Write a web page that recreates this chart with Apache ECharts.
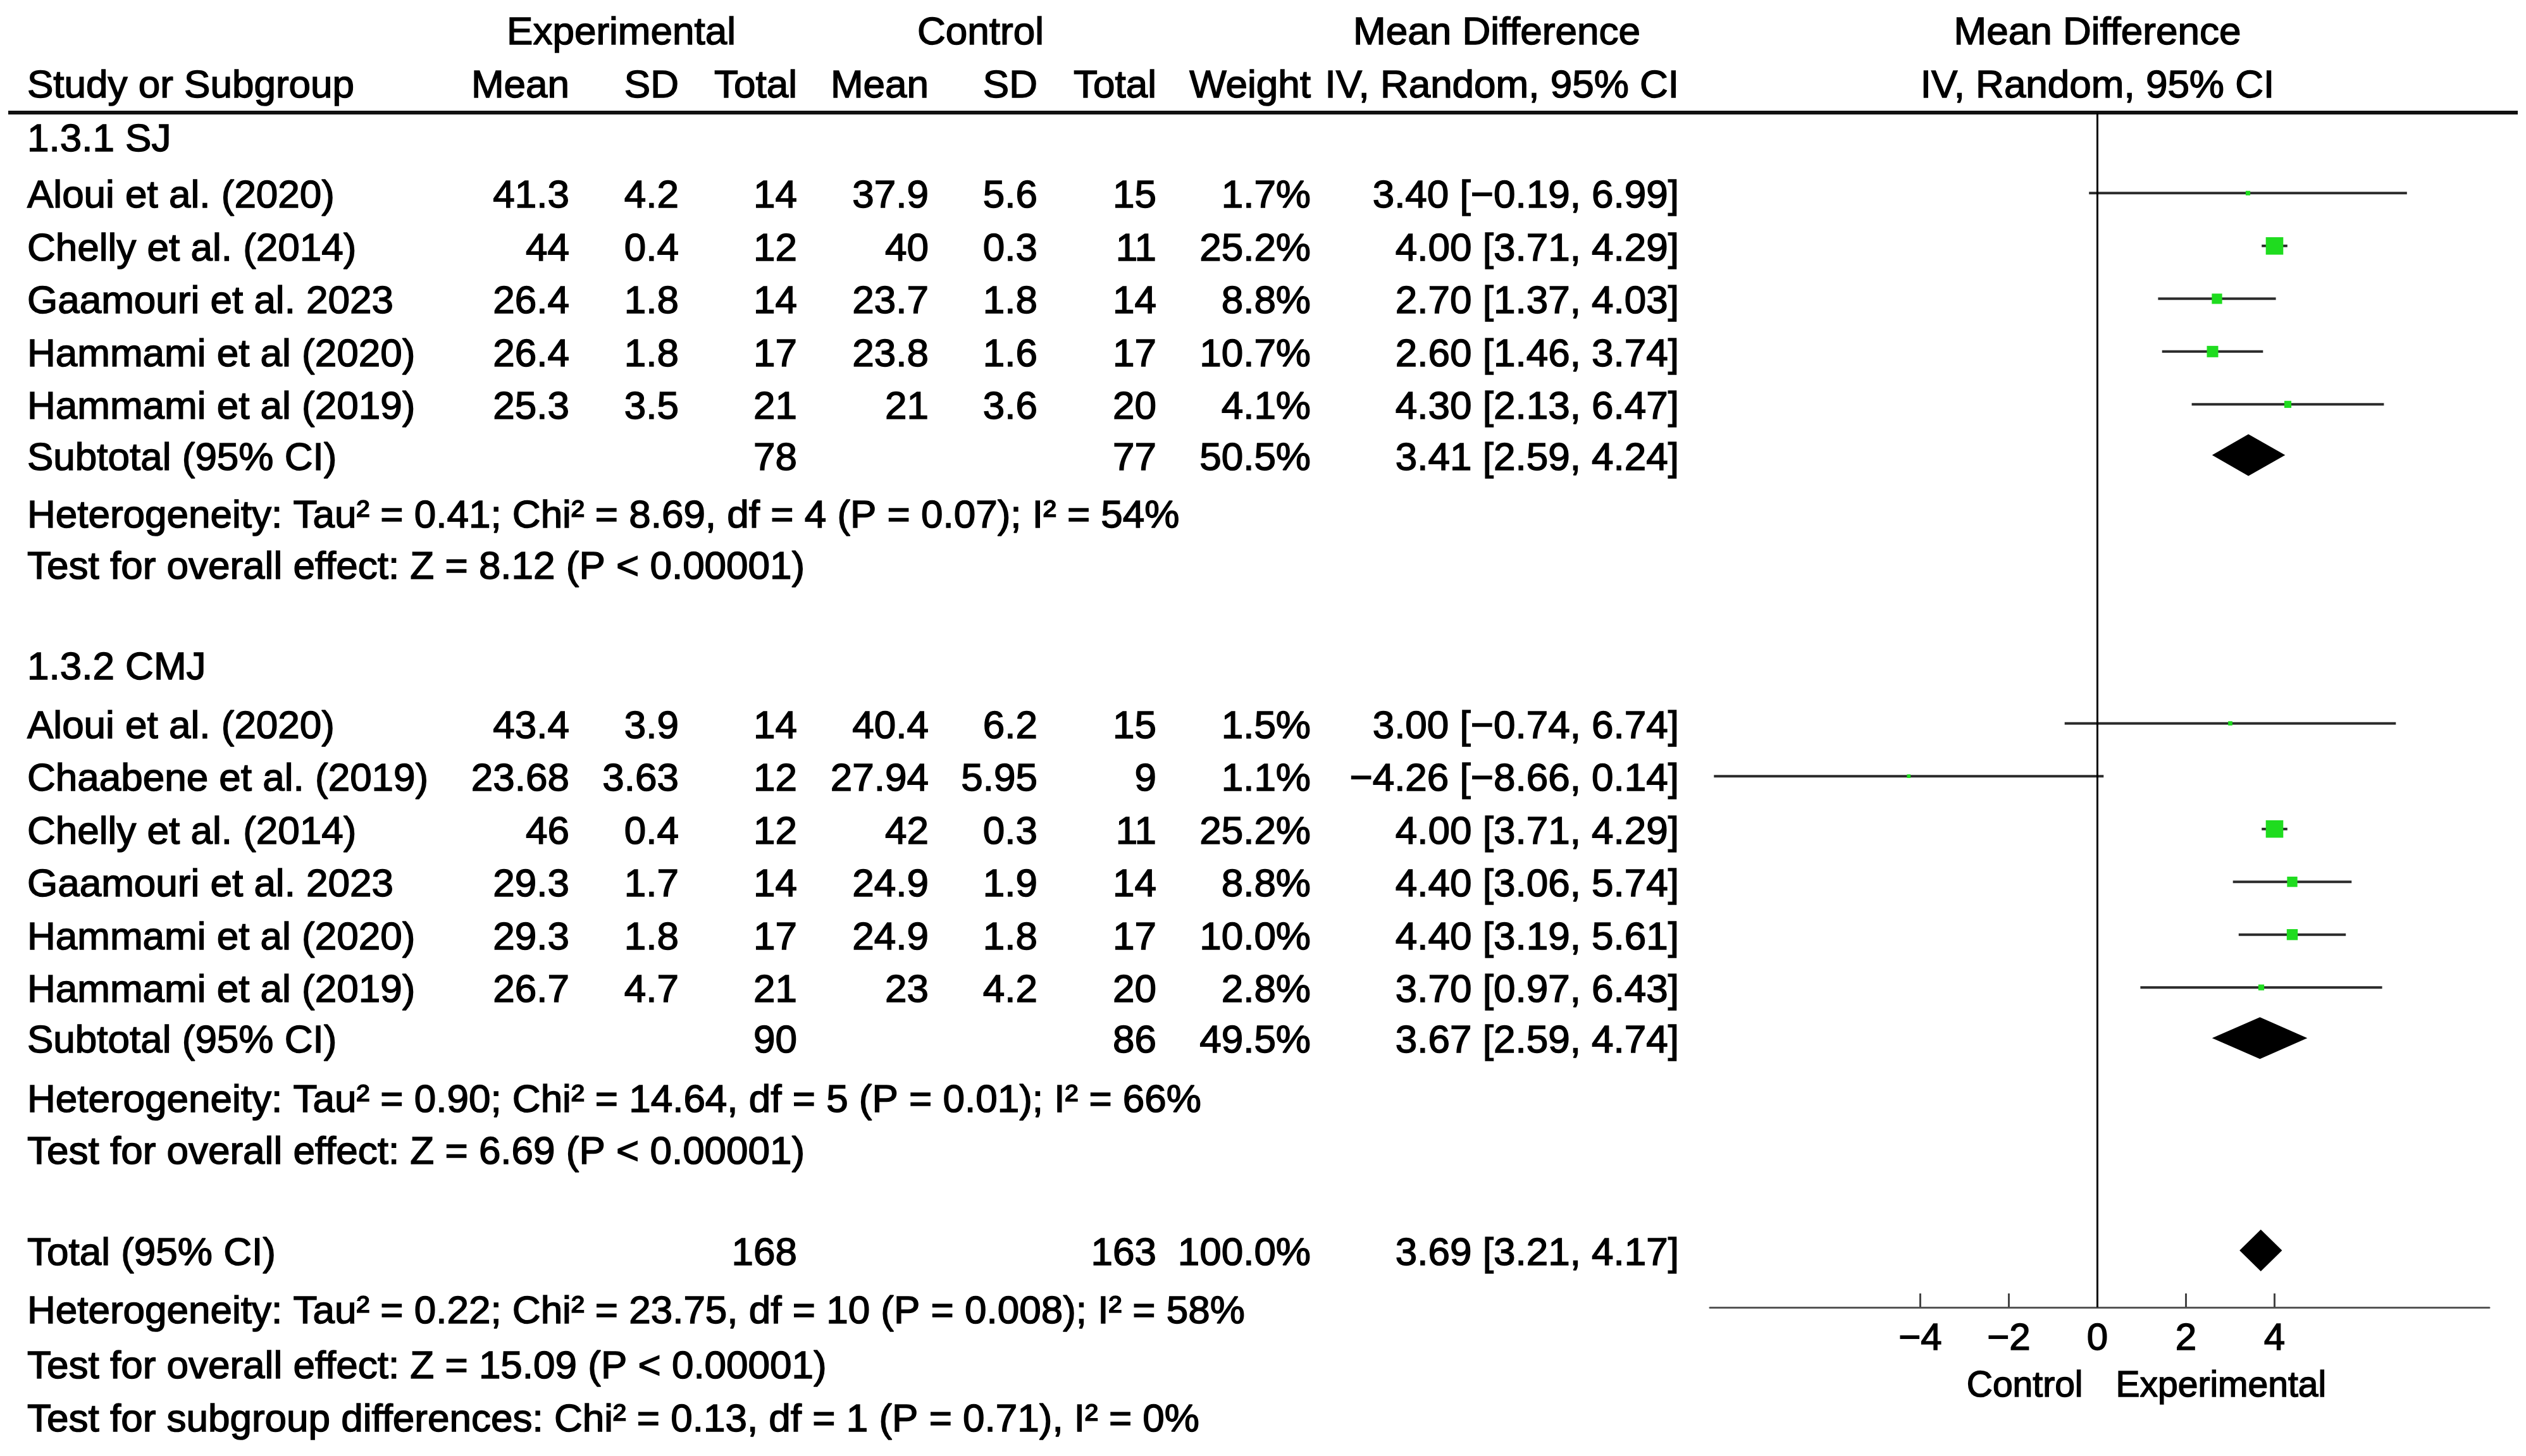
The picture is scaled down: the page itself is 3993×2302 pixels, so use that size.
<!DOCTYPE html>
<html>
<head>
<meta charset="utf-8">
<title>Forest plot - SJ / CMJ</title>
<script src="https://cdn.jsdelivr.net/npm/echarts@6/dist/echarts.min.js"></script>
<style>
  html, body { margin: 0; padding: 0; background: #fff; }
  #chart { width: 3993px; height: 2302px; }
</style>
</head>
<body>
<div id="chart"></div>
<script>
// ---- data: 1.3.1 SJ
const sjStudies = ['Aloui et al. (2020)', 'Chelly et al. (2014)', 'Gaamouri et al. 2023', 'Hammami et al (2020)', 'Hammami et al (2019)']
const sjExpMean = [41.3, 44, 26.4, 26.4, 25.3]
const sjExpSD = [4.2, 0.4, 1.8, 1.8, 3.5]
const sjExpTotal = [14, 12, 14, 17, 21]
const sjCtlMean = [37.9, 40, 23.7, 23.8, 21]
const sjCtlSD = [5.6, 0.3, 1.8, 1.6, 3.6]
const sjCtlTotal = [15, 11, 14, 17, 20]
const sjWeight = [1.7, 25.2, 8.8, 10.7, 4.1]
const sjMD = [3.40, 4.00, 2.70, 2.60, 4.30]
const sjLow = [-0.19, 3.71, 1.37, 1.46, 2.13]
const sjHigh = [6.99, 4.29, 4.03, 3.74, 6.47]

// ---- data: 1.3.2 CMJ
const cmjStudies = ['Aloui et al. (2020)', 'Chaabene et al. (2019)', 'Chelly et al. (2014)', 'Gaamouri et al. 2023', 'Hammami et al (2020)', 'Hammami et al (2019)']
const cmjExpMean = [43.4, 23.68, 46, 29.3, 29.3, 26.7]
const cmjExpSD = [3.9, 3.63, 0.4, 1.7, 1.8, 4.7]
const cmjExpTotal = [14, 12, 12, 14, 17, 21]
const cmjCtlMean = [40.4, 27.94, 42, 24.9, 24.9, 23]
const cmjCtlSD = [6.2, 5.95, 0.3, 1.9, 1.8, 4.2]
const cmjCtlTotal = [15, 9, 11, 14, 17, 20]
const cmjWeight = [1.5, 1.1, 25.2, 8.8, 10.0, 2.8]
const cmjMD = [3.00, -4.26, 4.00, 4.40, 4.40, 3.70]
const cmjLow = [-0.74, -8.66, 3.71, 3.06, 3.19, 0.97]
const cmjHigh = [6.74, 0.14, 4.29, 5.74, 5.61, 6.43]

// ---- pooled rows: SJ subtotal, CMJ subtotal, total
const pooledLabels = ['Subtotal (95% CI)', 'Subtotal (95% CI)', 'Total (95% CI)']
const pooledExpTotal = [78, 90, 168]
const pooledCtlTotal = [77, 86, 163]
const pooledWeight = [50.5, 49.5, 100.0]
const pooledMD = [3.41, 3.67, 3.69]
const pooledLow = [2.59, 2.59, 3.21]
const pooledHigh = [4.24, 4.74, 4.17]

const groupTitles = ['1.3.1 SJ', '1.3.2 CMJ']
const sjStats = ['Heterogeneity: Tau² = 0.41; Chi² = 8.69, df = 4 (P = 0.07); I² = 54%', 'Test for overall effect: Z = 8.12 (P < 0.00001)']
const cmjStats = ['Heterogeneity: Tau² = 0.90; Chi² = 14.64, df = 5 (P = 0.01); I² = 66%', 'Test for overall effect: Z = 6.69 (P < 0.00001)']
const totalStats = ['Heterogeneity: Tau² = 0.22; Chi² = 23.75, df = 10 (P = 0.008); I² = 58%', 'Test for overall effect: Z = 15.09 (P < 0.00001)', 'Test for subgroup differences: Chi² = 0.13, df = 1 (P = 0.71), I² = 0%']

const xTicks = [-4, -2, 0, 2, 4]
const sideLabels = ['Control', 'Experimental']

// ---- layout (row units on the y axis, pixel columns for the table)
const ROW = {
	head1: -2.02, head2: -1.02,
	sjHead: 0, sjFirst: 1.07, sjSub: 6.03, sjStats: [7.12, 8.1],
	cmjHead: 10.0, cmjFirst: 11.11, cmjSub: 17.07, cmjStats: [18.19, 19.17],
	total: 21.09, totalStats: [22.19, 23.23, 24.24],
	labels: 23.6
}
const TEXT_DY = 6 // visual centre of glyphs sits a bit above the em-box middle
const COL = { left: 43, expMean: 900, expSD: 1073, expTotal: 1260, ctlMean: 1468, ctlSD: 1640, ctlTotal: 1828, weight: 2072, ci: 2654, expHead: 982, ctlHead: 1550, mdHead: 2366 }
const FONT = 'Liberation Sans, Arial, sans-serif'
const GREEN = '#1fdc1f'

function fmt2(v) {
	return (v < 0 ? '\u2212' : '') + Math.abs(v).toFixed(2)
}
function ciText(m, l, h) {
	return fmt2(m) + ' [' + fmt2(l) + ', ' + fmt2(h) + ']'
}

const sjRows = sjStudies.map((s, i) => ROW.sjFirst + i)
const cmjRows = cmjStudies.map((s, i) => ROW.cmjFirst + i)
const pooledRows = [ROW.sjSub, ROW.cmjSub, ROW.total]

const studyData = []
sjStudies.forEach((s, i) => studyData.push([sjMD[i], sjRows[i], sjLow[i], sjHigh[i], sjWeight[i]]))
cmjStudies.forEach((s, i) => studyData.push([cmjMD[i], cmjRows[i], cmjLow[i], cmjHigh[i], cmjWeight[i]]))
const pooledData = pooledMD.map((m, i) => [m, pooledRows[i], pooledLow[i], pooledHigh[i]])

const chart = echarts.init(document.getElementById('chart'))

const option = {
	animation: false,
	backgroundColor: '#fff',
	grid: { left: 2703, right: 58, top: 178, bottom: 235 },
	xAxis: {
		type: 'value',
		min: -8.75,
		max: 8.85,
		position: 'bottom',
		axisLine: { show: true, onZero: false, lineStyle: { color: '#555', width: 3 } },
		axisTick: { show: true, inside: true, length: 22, customValues: xTicks, lineStyle: { color: '#444', width: 3 } },
		axisLabel: {
			customValues: xTicks,
			formatter: v => (v < 0 ? '\u2212' + Math.abs(v) : String(v)),
			fontSize: 60, fontFamily: FONT, color: '#000', margin: 20,
			textBorderColor: '#000', textBorderWidth: 1.5
		},
		splitLine: { show: false }
	},
	yAxis: {
		type: 'value',
		inverse: true,
		min: -0.455,
		max: 22.168,
		show: false
	},
	series: [
		{
			name: 'studies',
			type: 'custom',
			clip: false,
			encode: { x: [0, 2, 3], y: 1 },
			data: studyData,
			renderItem: function (params, api) {
				const p = api.coord([api.value(0), api.value(1)])
				const lo = api.coord([api.value(2), api.value(1)])[0]
				const hi = api.coord([api.value(3), api.value(1)])[0]
				const s = 5.5 * Math.sqrt(api.value(4))
				return {
					type: 'group',
					children: [
						{ type: 'line', shape: { x1: lo, y1: p[1], x2: hi, y2: p[1] }, style: { stroke: '#2b2b2b', lineWidth: 4 } },
						{ type: 'rect', shape: { x: p[0] - s / 2, y: p[1] - s / 2, width: s, height: s }, style: { fill: GREEN } }
					]
				}
			},
			markLine: {
				silent: true,
				symbol: 'none',
				label: { show: false },
				lineStyle: { color: '#000', width: 3, type: 'solid' },
				data: [{ xAxis: 0 }]
			}
		},
		{
			name: 'pooled',
			type: 'custom',
			clip: false,
			encode: { x: [0, 2, 3], y: 1 },
			data: pooledData,
			renderItem: function (params, api) {
				const p = api.coord([api.value(0), api.value(1)])
				const lo = api.coord([api.value(2), api.value(1)])[0]
				const hi = api.coord([api.value(3), api.value(1)])[0]
				const h = 33
				return {
					type: 'polygon',
					shape: { points: [[lo, p[1]], [p[0], p[1] - h], [hi, p[1]], [p[0], p[1] + h]] },
					style: { fill: '#000' }
				}
			}
		}
	]
}
chart.setOption(option)

// ---- table text, placed on the same y scale as the marks
const yPx = r => chart.convertToPixel({ yAxisIndex: 0 }, r)
const zeroPx = chart.convertToPixel({ xAxisIndex: 0 }, 0)
const texts = []
function txt(x, row, str, align, size) {
	texts.push({
		type: 'text',
		x: x,
		y: yPx(row) + TEXT_DY,
		silent: true,
		style: {
			text: String(str),
			fill: '#000',
			fontSize: size || 62,
			fontFamily: FONT,
			textAlign: align || 'left',
			textVerticalAlign: 'middle',
			stroke: '#000',
			lineWidth: 1.5
		}
	})
}

// headers
txt(COL.expHead, ROW.head1, 'Experimental', 'center')
txt(COL.ctlHead, ROW.head1, 'Control', 'center')
txt(COL.mdHead, ROW.head1, 'Mean Difference', 'center')
txt(zeroPx, ROW.head1, 'Mean Difference', 'center')
txt(COL.left, ROW.head2, 'Study or Subgroup')
txt(COL.expMean, ROW.head2, 'Mean', 'right')
txt(COL.expSD, ROW.head2, 'SD', 'right')
txt(COL.expTotal, ROW.head2, 'Total', 'right')
txt(COL.ctlMean, ROW.head2, 'Mean', 'right')
txt(COL.ctlSD, ROW.head2, 'SD', 'right')
txt(COL.ctlTotal, ROW.head2, 'Total', 'right')
txt(COL.weight, ROW.head2, 'Weight', 'right')
txt(COL.ci, ROW.head2, 'IV, Random, 95% CI', 'right')
txt(zeroPx, ROW.head2, 'IV, Random, 95% CI', 'center')

function studyRow(row, name, em, esd, et, cm, csd, ct, w, m, l, h) {
	txt(COL.left, row, name)
	txt(COL.expMean, row, em, 'right')
	txt(COL.expSD, row, esd, 'right')
	txt(COL.expTotal, row, et, 'right')
	txt(COL.ctlMean, row, cm, 'right')
	txt(COL.ctlSD, row, csd, 'right')
	txt(COL.ctlTotal, row, ct, 'right')
	txt(COL.weight, row, w.toFixed(1) + '%', 'right')
	txt(COL.ci, row, ciText(m, l, h), 'right')
}
function pooledRow(i) {
	const row = pooledRows[i]
	txt(COL.left, row, pooledLabels[i])
	txt(COL.expTotal, row, pooledExpTotal[i], 'right')
	txt(COL.ctlTotal, row, pooledCtlTotal[i], 'right')
	txt(COL.weight, row, pooledWeight[i].toFixed(1) + '%', 'right')
	txt(COL.ci, row, ciText(pooledMD[i], pooledLow[i], pooledHigh[i]), 'right')
}

txt(COL.left, ROW.sjHead, groupTitles[0])
sjStudies.forEach((s, i) => studyRow(sjRows[i], s, sjExpMean[i], sjExpSD[i], sjExpTotal[i], sjCtlMean[i], sjCtlSD[i], sjCtlTotal[i], sjWeight[i], sjMD[i], sjLow[i], sjHigh[i]))
pooledRow(0)
sjStats.forEach((s, i) => txt(COL.left, ROW.sjStats[i], s))

txt(COL.left, ROW.cmjHead, groupTitles[1])
cmjStudies.forEach((s, i) => studyRow(cmjRows[i], s, cmjExpMean[i], cmjExpSD[i], cmjExpTotal[i], cmjCtlMean[i], cmjCtlSD[i], cmjCtlTotal[i], cmjWeight[i], cmjMD[i], cmjLow[i], cmjHigh[i]))
pooledRow(1)
cmjStats.forEach((s, i) => txt(COL.left, ROW.cmjStats[i], s))

pooledRow(2)
totalStats.forEach((s, i) => txt(COL.left, ROW.totalStats[i], s))

// favours labels under the axis
txt(zeroPx - 23, ROW.labels, sideLabels[0], 'right', 57)
txt(zeroPx + 29, ROW.labels, sideLabels[1], 'left', 57)

// rule under the column headers
texts.push({
	type: 'line',
	silent: true,
	shape: { x1: 13, y1: 178, x2: 3980, y2: 178 },
	style: { stroke: '#111', lineWidth: 6 }
})

chart.setOption({ graphic: texts })

window.addEventListener('resize', function () {
	chart.resize()
})
</script>
</body>
</html>
